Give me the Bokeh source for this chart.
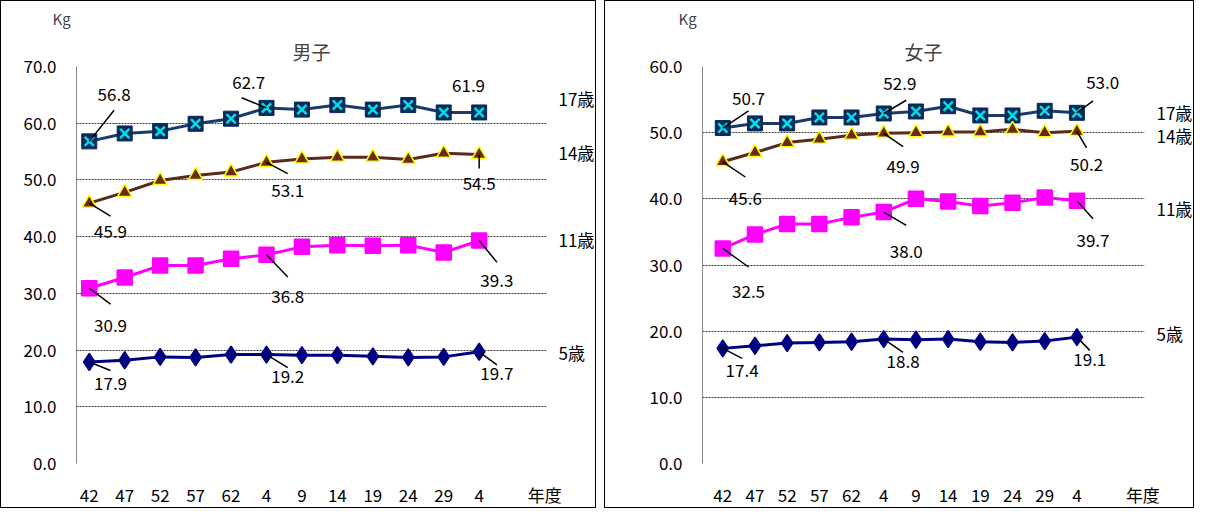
from bokeh.plotting import figure
from bokeh.layouts import row
from bokeh.models import Label, FixedTicker, LinearAxis, Title
from bokeh.embed import file_html
from bokeh.resources import INLINE

years = ["42", "47", "52", "57", "62", "4", "9", "14", "19", "24", "29", "4"]
year_unit = "年度"
ages = ["17歳", "14歳", "11歳", "5歳"]

boys_17 = [56.8, 58.2, 58.6, 59.9, 60.8, 62.7, 62.4, 63.2, 62.4, 63.2, 61.9, 61.9]
boys_14 = [45.9, 47.8, 49.9, 50.8, 51.4, 53.1, 53.7, 54.0, 54.0, 53.6, 54.7, 54.5]
boys_11 = [30.9, 32.8, 34.9, 34.9, 36.1, 36.8, 38.2, 38.5, 38.4, 38.5, 37.2, 39.3]
boys_5 = [17.9, 18.2, 18.8, 18.7, 19.2, 19.2, 19.1, 19.1, 18.9, 18.7, 18.8, 19.7]

girls_17 = [50.7, 51.4, 51.4, 52.3, 52.3, 52.9, 53.2, 54.0, 52.6, 52.6, 53.3, 53.0]
girls_14 = [45.6, 47.0, 48.5, 49.0, 49.6, 49.9, 50.0, 50.1, 50.1, 50.5, 50.0, 50.2]
girls_11 = [32.5, 34.6, 36.2, 36.2, 37.2, 38.0, 40.0, 39.6, 38.9, 39.4, 40.2, 39.7]
girls_5 = [17.4, 17.8, 18.2, 18.3, 18.4, 18.8, 18.7, 18.8, 18.4, 18.3, 18.5, 19.1]

FONT = "Noto Sans CJK JP"
labelled = [0, 5, 11]


def make_panel(title, series, ymax, xstart, xend, width, left, offsets, age_y):
    p = figure(width=width, height=508, x_range=(xstart, xend), y_range=(0, ymax),
               output_backend="svg", toolbar_location=None,
               min_border_left=left, min_border_right=0, min_border_top=0, min_border_bottom=46)
    p.styles = {"border": "1.5px solid black", "box-sizing": "border-box"}
    p.outline_line_color = None
    p.title.text = "Kg"
    p.title.align = "left"
    p.title.offset = -24
    p.title.text_font = FONT
    p.title.text_font_size = "15px"
    p.title.text_font_style = "normal"
    p.title.standoff = 9
    p.add_layout(Title(text=title, align="center", text_font=FONT, text_font_size="19px",
                       text_font_style="normal", standoff=4), "above")

    p.xgrid.grid_line_color = None
    p.ygrid.grid_line_color = "black"
    p.ygrid.grid_line_dash = "2 1"
    p.ygrid.grid_line_width = 0.8
    p.yaxis.ticker = FixedTicker(ticks=list(range(0, ymax + 1, 10)))
    p.yaxis.major_label_overrides = {t: f"{t:.1f}" for t in range(0, ymax + 1, 10)}
    unit_x = xend - 0.05
    p.xaxis.ticker = FixedTicker(ticks=list(range(12)) + [unit_x])
    overrides = {i: y for i, y in enumerate(years)}
    overrides[unit_x] = year_unit
    p.xaxis.major_label_overrides = overrides

    age_axis = LinearAxis(ticker=FixedTicker(ticks=age_y),
                          major_label_overrides=dict(zip(age_y, ages)))
    p.add_layout(age_axis, "right")

    for ax in (p.xaxis[0], p.yaxis[0], age_axis):
        ax.major_tick_line_color = None
        ax.minor_tick_line_color = None
        ax.major_label_text_font = FONT
        ax.major_label_text_font_size = "17px"
        ax.major_label_text_color = "black"
    p.xaxis.axis_line_color = None
    age_axis.axis_line_color = None
    age_axis.major_label_standoff = 6
    p.yaxis[0].axis_line_color = "#888888"
    p.xaxis.major_label_standoff = 12
    p.yaxis[0].major_label_standoff = 14

    x = list(range(12))
    styles = [
        ("square_x", "#1a3a6e", "#00e0e8", "#0a2a5a", 15),
        ("triangle", "#5a2a1a", "#6a2a1a", "#ffff00", 14),
        ("square", "#ff00ff", "#ff00ff", "#ff00ff", 15),
        ("diamond", "#000080", "#000080", "#000080", 17),
    ]
    for vals, (marker, lc, fc, mlc, size) in zip(series, styles):
        p.line(x, vals, line_color=lc, line_width=3)
        if marker == "square_x":
            p.scatter(x, vals, marker="square", size=size, fill_color="#0a2a5a", line_color="#0a2a5a")
            p.scatter(x, vals, marker="x", size=size - 2, line_color=fc, line_width=2.5)
        else:
            p.scatter(x, vals, marker=marker, size=size, fill_color=fc, line_color=mlc, line_width=1.5)

    for s, vals in enumerate(series):
        for k, i in enumerate(labelled):
            dx, dy, tx, ty = offsets[s][k]
            p.segment(i, vals[i], i + dx, vals[i] + dy, line_color="black", line_width=1.5)
            p.add_layout(Label(x=i + tx, y=vals[i] + ty, text=f"{vals[i]:.1f}", text_font=FONT,
                               text_font_size="17px", text_color="black",
                               text_align="center", text_baseline="middle"))
    return p


boys_off = [
    [(0.7, 5.5, 0.7, 8.3), (-0.7, 1.8, -0.5, 4.5), (0.0, 0.0, -0.3, 4.8)],
    [(0.6, -2.3, 0.6, -5.0), (0.6, -2.0, 0.6, -5.0), (0.0, -2.5, 0.0, -5.2)],
    [(0.6, -2.8, 0.6, -6.5), (0.6, -3.9, 0.6, -7.3), (0.5, -3.8, 0.5, -7.0)],
    [(0.6, -1.5, 0.6, -3.8), (0.6, -2.3, 0.6, -3.8), (0.5, -2.3, 0.5, -3.8)],
]
girls_off = [
    [(0.8, 2.6, 0.8, 4.5), (0.7, 2.0, 0.5, 4.5), (0.5, 1.8, 0.8, 4.6)],
    [(0.7, -2.3, 0.7, -5.6), (0.6, -2.0, 0.6, -5.0), (0.3, -2.5, 0.3, -5.0)],
    [(0.8, -2.8, 0.8, -6.5), (0.7, -2.0, 0.7, -6.0), (0.5, -2.7, 0.5, -6.0)],
    [(0.6, -1.5, 0.6, -3.4), (0.6, -2.0, 0.6, -3.4), (0.4, -2.0, 0.4, -3.4)],
]

left = make_panel("男子", [boys_17, boys_14, boys_11, boys_5], 70, -0.36, 12.9, 596, 75,
                  boys_off, [64.4, 54.8, 39.5, 19.5])
right = make_panel("女子", [girls_17, girls_14, girls_11, girls_5], 60, -0.63, 13.1, 590, 97,
                   girls_off, [53.0, 49.5, 38.6, 19.6])
layout = row(left, right, spacing=8)

open("out.html", "w").write(file_html(layout, INLINE))
